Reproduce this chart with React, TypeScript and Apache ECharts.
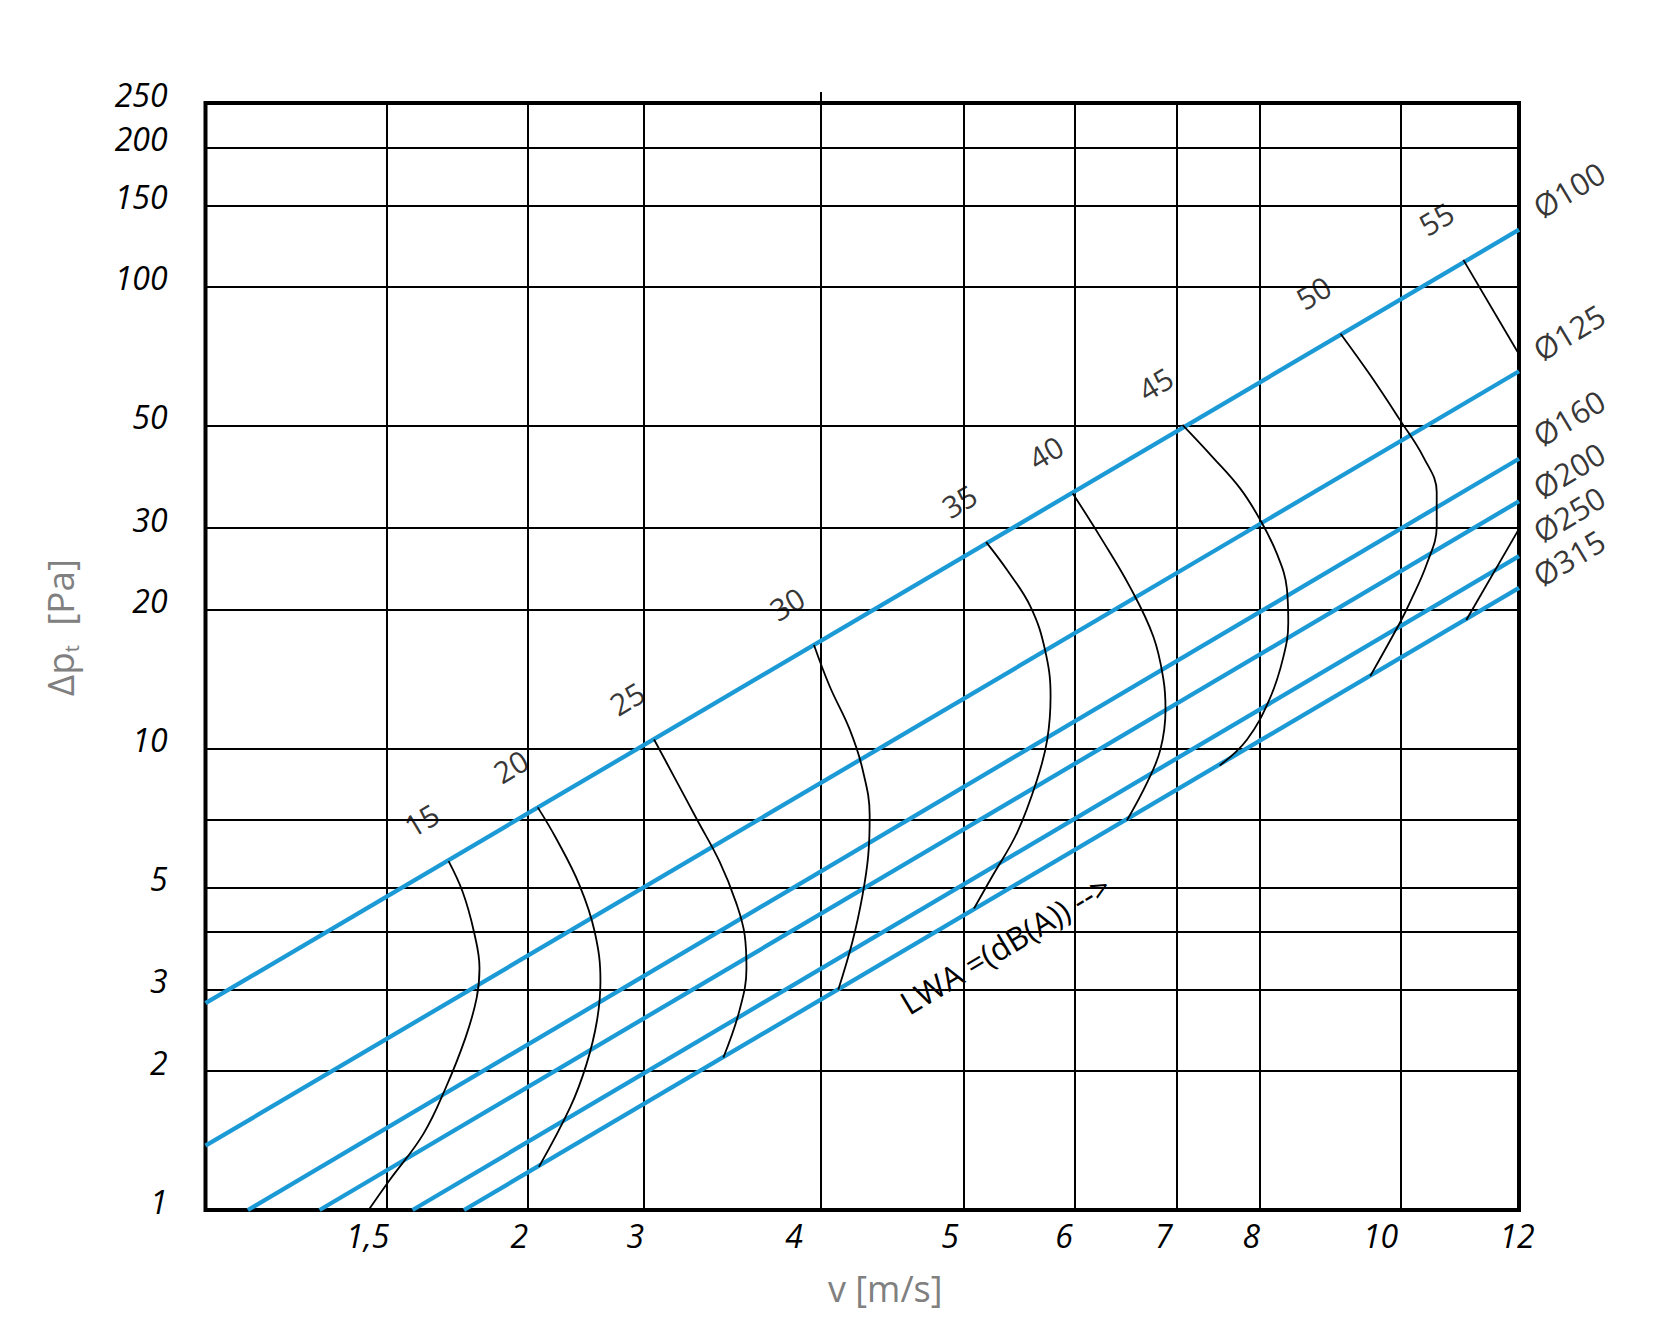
import React, { useEffect, useRef } from "react";
import * as echarts from "echarts";

// ---- x axis: the printed velocity grid (non-uniform spacing, as in the source diagram) ----
const axisVelocities = [1, 1.5, 2, 3, 4, 5, 6, 7, 8, 10, 12];
const axisPositions = [0, 181.2, 321.8, 437.9, 615.6, 758.5, 869.5, 971.2, 1053.8, 1195.1, 1313.5];
const xTickVelocities = [1.5, 2, 3, 4, 5, 6, 7, 8, 10, 12];
const xTickLabels = ["1,5", "2", "3", "4", "5", "6", "7", "8", "10", "12"];
const xLabelNudge = [-19, -8, -8, -27, -14, -11, -13, -8, -20, -2];
const topTickVelocities = [4];

// ---- y axis (log) ----
const yGridValues = [1, 2, 3, 4, 5, 7, 10, 20, 30, 50, 100, 150, 200, 250];
const yLabelValues = [1, 2, 3, 5, 10, 20, 30, 50, 100, 150, 200, 250];

// ---- duct diameter lines [v, Δp] ----
const diameters = ["Ø100", "Ø125", "Ø160", "Ø200", "Ø250", "Ø315"];
const diameterStart = [[1, 2.805], [1, 1.378], [1.117, 1], [1.315, 1], [1.592, 1], [1.775, 1]];
const diameterEnd = [[12, 132.9], [12, 65.6], [12, 42.4], [12, 34.3], [12, 26.08], [12, 22.27]];
const diameterLabelDy = [-40, -39, -41, -31, -42, -30];

// ---- sound power level curves LWA [v, Δp] ----
const lwaLevels = [15, 20, 25, 30, 35, 40, 45, 50, 55];
const lwa15 = [[1.72, 5.7], [1.77, 4.89], [1.81, 4.01], [1.83, 3.34], [1.82, 2.88], [1.78, 2.36], [1.71, 1.84], [1.63, 1.46], [1.51, 1.16], [1.45, 1.0]];
const lwa20 = [[2.09, 7.45], [2.25, 6.37], [2.45, 5.05], [2.58, 4.01], [2.63, 3.13], [2.6, 2.57], [2.51, 2.07], [2.37, 1.67], [2.1, 1.24]];
const lwa25 = [[3.06, 10.45], [3.17, 8.72], [3.3, 7.03], [3.43, 5.67], [3.52, 4.65], [3.57, 3.94], [3.58, 3.34], [3.54, 2.7], [3.45, 2.14]];
const lwa30 = [[3.96, 16.75], [4.06, 13.63], [4.2, 10.99], [4.29, 9.01], [4.34, 7.15], [4.33, 5.87], [4.29, 4.81], [4.22, 3.82], [4.12, 3.0]];
const lwa35 = [[5.2, 27.97], [5.39, 24.3], [5.6, 20.26], [5.73, 16.34], [5.78, 12.97], [5.75, 10.45], [5.66, 8.58], [5.48, 6.58], [5.26, 5.31], [5.09, 4.5]];
const lwa40 = [[5.98, 35.66], [6.25, 28.68], [6.54, 22.38], [6.77, 17.47], [6.87, 14.08], [6.89, 12.13], [6.84, 9.95], [6.71, 8.44], [6.51, 6.98]];
const lwa45 = [[7.07, 50.2], [7.44, 42.65], [7.77, 36.52], [8.01, 31.3], [8.25, 26.37], [8.39, 22.21], [8.41, 18.71], [8.34, 15.76], [8.15, 12.83], [7.85, 10.44], [7.52, 9.18]];
const lwa50 = [[9.15, 79.1], [9.57, 64.35], [9.99, 51.47], [10.39, 42.65], [10.61, 35.93], [10.61, 30.25], [10.44, 25.04], [10.16, 20.73], [9.99, 18.71], [9.57, 14.34]];
const lwa55 = [[11.06, 114.3], [12, 71.4]];
const lwa55Lower = [[11.11, 18.97], [12, 29.88]];

const FONT = '"Open Sans", "Noto Sans", sans-serif';
const BLUE = "#1c9ad6";
const GREY = "#808080";
const LABEL_ROT = 31;

function vToX(v: number): number {
  const n = axisVelocities.length;
  for (let i = 0; i < n - 1; i++) {
    if (v <= axisVelocities[i + 1] || i === n - 2) {
      const t = (v - axisVelocities[i]) / (axisVelocities[i + 1] - axisVelocities[i]);
      return axisPositions[i] + t * (axisPositions[i + 1] - axisPositions[i]);
    }
  }
  return 0;
}

// label offsets are applied in the rotated frame: convert a screen offset into that frame
function rotOffset(dx: number, dy: number): number[] {
  const t = (LABEL_ROT * Math.PI) / 180;
  return [dx * Math.cos(t) - dy * Math.sin(t), dx * Math.sin(t) + dy * Math.cos(t)];
}

function buildOption(): any {
  const xMax = axisPositions[axisPositions.length - 1];
  const labelPos = xTickVelocities.map((v, i) => vToX(v) + xLabelNudge[i]);
  const labelMap: Record<string, string> = {};
  labelPos.forEach((p, i) => (labelMap[p.toFixed(2)] = xTickLabels[i]));

  const curves = [lwa15, lwa20, lwa25, lwa30, lwa35, lwa40, lwa45, lwa50, lwa55];

  const blueSeries = diameters.map((name, i) => ({
    type: "line",
    name,
    data: [
      [vToX(diameterStart[i][0]), diameterStart[i][1]],
      [vToX(diameterEnd[i][0]), diameterEnd[i][1]],
    ],
    symbol: "none",
    silent: true,
    z: 3,
    lineStyle: { color: BLUE, width: 4.3 },
  }));

  const curveSeries = [...curves, lwa55Lower].map((c) => ({
    type: "line",
    data: c.map(([v, p]) => [vToX(v), p]),
    smooth: 0.4,
    symbol: "none",
    silent: true,
    z: 4,
    lineStyle: { color: "#000", width: 1.8 },
  }));

  const curveLabels = {
    type: "scatter",
    data: curves.map((c, i) => [vToX(c[0][0]), c[0][1], lwaLevels[i]]),
    symbolSize: 0,
    clip: false,
    silent: true,
    z: 5,
    label: {
      show: true,
      position: "inside",
      formatter: (p: any) => String(p.value[2]),
      offset: rotOffset(-27, -41),
      rotate: LABEL_ROT,
      fontSize: 30,
      fontFamily: FONT,
      color: "#000",
      align: "center",
      verticalAlign: "middle",
    },
  };

  const diameterLabels = {
    type: "scatter",
    data: diameters.map((d, i) => ({
      name: d,
      value: [vToX(diameterEnd[i][0]), diameterEnd[i][1]],
      label: { offset: rotOffset(50, diameterLabelDy[i]) },
    })),
    symbolSize: 0,
    clip: false,
    silent: true,
    z: 5,
    label: {
      show: true,
      position: "inside",
      formatter: "{b}",
      rotate: LABEL_ROT,
      fontSize: 31,
      fontFamily: FONT,
      color: "#000",
      align: "center",
      verticalAlign: "middle",
    },
  };

  return {
    animation: false,
    backgroundColor: "#ffffff",
    grid: {
      left: 205.5,
      right: 161,
      top: 103,
      bottom: 131,
      show: true,
      borderColor: "#000",
      borderWidth: 4,
      backgroundColor: "transparent",
    },
    xAxis: [
      {
        type: "value",
        min: 0,
        max: xMax,
        position: "bottom",
        name: "v [m/s]",
        nameLocation: "middle",
        nameGap: 58,
        nameTextStyle: {
          fontFamily: FONT,
          fontSize: 36,
          lineHeight: 40,
          color: GREY,
          padding: [0, 0, 0, 46],
        },
        axisLine: { show: false },
        axisTick: { show: false, customValues: xTickVelocities.map(vToX) },
        axisLabel: {
          customValues: labelPos,
          formatter: (val: number) => labelMap[val.toFixed(2)] ?? "",
          fontFamily: FONT,
          fontStyle: "italic",
          fontSize: 32,
          lineHeight: 30,
          color: "#000",
          margin: 10,
        },
        splitLine: { show: true, lineStyle: { color: "#000", width: 2 } },
      },
      {
        type: "value",
        min: 0,
        max: xMax,
        position: "top",
        axisLine: { show: false },
        axisLabel: { show: false },
        splitLine: { show: false },
        axisTick: {
          show: true,
          inside: false,
          length: 11,
          customValues: topTickVelocities.map(vToX),
          lineStyle: { color: "#000", width: 2 },
        },
      },
    ],
    yAxis: {
      type: "log",
      logBase: 10,
      min: 1,
      max: 250,
      name: "{a|Δp}{t|t}{a|  [Pa]}",
      nameLocation: "middle",
      nameRotate: 90,
      nameGap: 124,
      nameTextStyle: {
        color: GREY,
        fontFamily: FONT,
        padding: [0, 0, 0, 58],
        rich: {
          a: { fontSize: 37, lineHeight: 44, color: GREY, fontFamily: FONT },
          t: { fontSize: 20, lineHeight: 4, color: GREY, fontFamily: FONT, verticalAlign: "bottom" },
        },
      },
      axisLine: { show: false },
      axisTick: { show: false, customValues: yGridValues },
      minorTick: { show: false },
      minorSplitLine: { show: false },
      axisLabel: {
        customValues: yLabelValues,
        formatter: (v: number) => String(Math.round(v)),
        fontFamily: FONT,
        fontStyle: "italic",
        fontSize: 32,
        color: "#000",
        margin: 38,
        verticalAlign: "bottom",
        lineHeight: 18,
      },
      splitLine: { show: true, lineStyle: { color: "#000", width: 2 } },
    },
    graphic: [
      {
        type: "text",
        x: 1005,
        y: 944,
        rotation: (LABEL_ROT * Math.PI) / 180,
        z: 10,
        style: {
          text: "LWA =(dB(A)) -->",
          fontSize: 32,
          fontFamily: FONT,
          fill: "#000",
          align: "center",
          verticalAlign: "middle",
          textAlign: "center",
          textVerticalAlign: "middle",
        },
      },
    ],
    series: [...blueSeries, ...curveSeries, curveLabels, diameterLabels],
  };
}

export default function App() {
  const ref = useRef<HTMLDivElement>(null);
  useEffect(() => {
    if (!ref.current) return;
    const chart = echarts.init(ref.current, null, { renderer: "svg" });
    chart.setOption(buildOption());
    return () => chart.dispose();
  }, []);
  return (
    <div
      ref={ref}
      style={{ position: "fixed", left: 0, top: 0, width: 1680, height: 1341, background: "#fff" }}
    />
  );
}
